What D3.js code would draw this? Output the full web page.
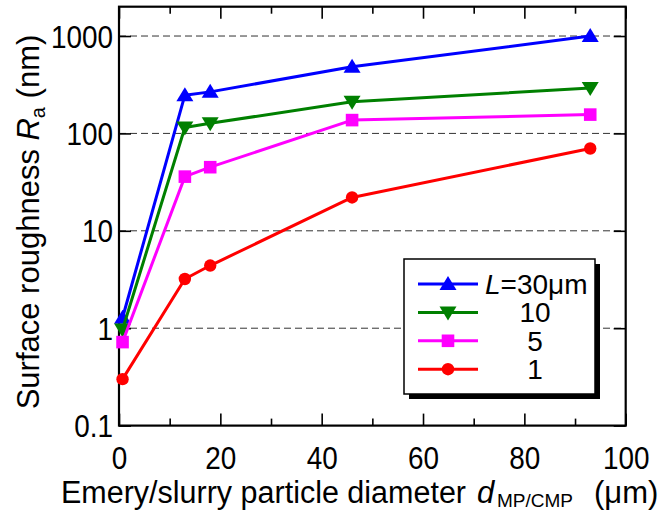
<!DOCTYPE html>
<html>
<head>
<meta charset="utf-8">
<script src="https://cdn.jsdelivr.net/npm/d3@7"></script>
<style>
  html, body { margin: 0; padding: 0; background: #fff; }
  svg { display: block; font-family: "Liberation Sans", Arial, sans-serif; }
</style>
</head>
<body>
<svg id="chart" width="664" height="510"></svg>
<script>
// Particle diameter d (µm) for each measurement
const diameters = [0.7, 13, 18, 46, 93];

// Surface roughness Ra (nm) for each stroke length L
const seriesNames = ["L=30μm", "10", "5", "1"];
const ra30 = [1.28, 247, 267, 483, 1000];
const ra10 = [0.97, 115, 127, 211, 292];
const ra5  = [0.72, 36, 45, 137, 156];
const ra1  = [0.30, 3.2, 4.4, 22, 70];

const xTicks = [0, 20, 40, 60, 80, 100];
const xMinorTicks = [10, 30, 50, 70, 90];
const yTicks = [0.1, 1, 10, 100, 1000];
const yTickLabels = ["0.1", "1", "10", "100", "1000"];

const colors = ["#0000ff", "#008000", "#ff00ff", "#ff0000"];
const shapes = ["up", "down", "square", "circle"];
const allSeries = [ra30, ra10, ra5, ra1];

const svg = d3.select("#chart");
const W = 664, H = 510;
const m = { left: 119, right: 38.3, top: 6.7, bottom: 84.4 };
const iw = W - m.left - m.right, ih = H - m.top - m.bottom;

const x = d3.scaleLinear().domain([0, 100]).range([m.left, m.left + iw]);
const y = d3.scaleLog().domain([0.1, 2000]).range([m.top + ih, m.top]);

// slightly condensed tick lettering
const squeeze = 0.9;

// dashed decade grid lines
svg.append("g").selectAll("line")
  .data([1, 10, 100, 1000])
  .join("line")
  .attr("x1", m.left).attr("x2", m.left + iw)
  .attr("y1", d => y(d)).attr("y2", d => y(d))
  .attr("stroke", "#333").attr("stroke-width", 1)
  .attr("stroke-dasharray", "7,4");

// axes with inward ticks on all four sides
function styleAxis(g) {
  g.select(".domain").remove();
  g.selectAll(".tick line").attr("stroke", "#000").attr("stroke-width", 1.6);
}
const major = 12, minor = 7;
svg.append("g").attr("transform", `translate(0,${m.top + ih})`)
  .call(d3.axisBottom(x).tickValues(xTicks).tickSize(-major).tickFormat(d3.format("d")))
  .call(styleAxis)
  .call(g => g.selectAll("text")
    .attr("font-size", 31).attr("fill", "#000")
    .attr("font-family", "Liberation Sans, Arial, sans-serif")
    .attr("y", 21).attr("dy", "0.71em")
    .attr("transform", `scale(${squeeze},1)`));
svg.append("g").attr("transform", `translate(0,${m.top + ih})`)
  .call(d3.axisBottom(x).tickValues(xMinorTicks).tickSize(-minor).tickFormat(""))
  .call(styleAxis);
svg.append("g").attr("transform", `translate(0,${m.top})`)
  .call(d3.axisTop(x).tickValues(xTicks).tickSize(-major).tickFormat(""))
  .call(styleAxis);
svg.append("g").attr("transform", `translate(0,${m.top})`)
  .call(d3.axisTop(x).tickValues(xMinorTicks).tickSize(-minor).tickFormat(""))
  .call(styleAxis);
svg.append("g").attr("transform", `translate(${m.left},0)`)
  .call(d3.axisLeft(y).tickValues(yTicks).tickSize(-major)
    .tickFormat((d, i) => yTickLabels[i]))
  .call(styleAxis)
  .call(g => g.selectAll("text")
    .attr("font-size", 31).attr("fill", "#000")
    .attr("font-family", "Liberation Sans, Arial, sans-serif")
    .attr("x", -6 / squeeze).attr("dy", "0.36em")
    .attr("transform", `scale(${squeeze},1)`));
svg.append("g").attr("transform", `translate(${m.left + iw},0)`)
  .call(d3.axisRight(y).tickValues(yTicks).tickSize(-major).tickFormat(""))
  .call(styleAxis);

// plot frame
svg.append("rect")
  .attr("x", m.left).attr("y", m.top).attr("width", iw).attr("height", ih)
  .attr("fill", "none").attr("stroke", "#000").attr("stroke-width", 2.2);

// marker shapes
function markerPath(shape) {
  switch (shape) {
    case "up": return "M0,-8L8.5,6L-8.5,6Z";
    case "down": return "M0,8L8.5,-6L-8.5,-6Z";
    case "square": return "M-6.3,-6.3H6.3V6.3H-6.3Z";
    default: return d3.symbol(d3.symbolCircle, Math.PI * 6.2 * 6.2)();
  }
}

const line = d3.line().x((d, i) => x(diameters[i])).y(d => y(d));
const plot = svg.append("g");
allSeries.forEach((vals, k) => {
  const g = plot.append("g");
  g.append("path").datum(vals).attr("d", line)
    .attr("fill", "none").attr("stroke", colors[k]).attr("stroke-width", 3)
    .attr("stroke-linejoin", "round");
  g.selectAll("path.mk").data(vals).join("path").attr("class", "mk")
    .attr("transform", (d, i) => `translate(${x(diameters[i])},${y(d)})`)
    .attr("d", markerPath(shapes[k])).attr("fill", colors[k]);
});

// legend
const lg = svg.append("g").attr("transform", "translate(404,259)");
const lw = 191, lh = 135;
lg.append("rect").attr("x", 5).attr("y", 5).attr("width", lw).attr("height", lh).attr("fill", "#000");
lg.append("rect").attr("width", lw).attr("height", lh).attr("fill", "#fff")
  .attr("stroke", "#000").attr("stroke-width", 1.5);
seriesNames.forEach((name, k) => {
  const ry = 25 + k * 28.4;
  const row = lg.append("g").attr("transform", `translate(0,${ry})`);
  row.append("line").attr("x1", 14).attr("x2", 74).attr("stroke", colors[k]).attr("stroke-width", 3);
  row.append("path").attr("transform", "translate(44,0)").attr("d", markerPath(shapes[k])).attr("fill", colors[k]);
  if (k === 0) {
    const t = row.append("text").attr("x", 81).attr("y", 10).attr("font-size", 28);
    t.append("tspan").attr("font-style", "italic").text("L");
    t.append("tspan").text("=30μm");
  } else {
    row.append("text").attr("x", 131).attr("y", 10).attr("font-size", 28)
      .attr("text-anchor", "middle").text(name);
  }
});

// axis titles
const xtY = 503;
svg.append("text").attr("x", 61).attr("y", xtY).attr("font-size", 31)
  .attr("textLength", 405).attr("lengthAdjust", "spacingAndGlyphs")
  .text("Emery/slurry particle diameter");
const xs = svg.append("text").attr("x", 477).attr("y", xtY).attr("font-size", 31);
xs.append("tspan").attr("font-style", "italic").text("d");
xs.append("tspan").attr("x", 497).attr("font-size", 19).attr("dy", 4).text("MP/CMP");
svg.append("text").attr("x", 594).attr("y", xtY).attr("font-size", 31).text("(μm)");

const yt = svg.append("text")
  .attr("transform", "translate(39,222) rotate(-90)")
  .attr("text-anchor", "middle").attr("font-size", 31);
yt.append("tspan").text("Surface roughness ");
yt.append("tspan").attr("font-style", "italic").text("R");
yt.append("tspan").attr("font-size", 20).attr("dy", 6).text("a");
yt.append("tspan").attr("dy", -6).text(" (nm)");
</script>
</body>
</html>
